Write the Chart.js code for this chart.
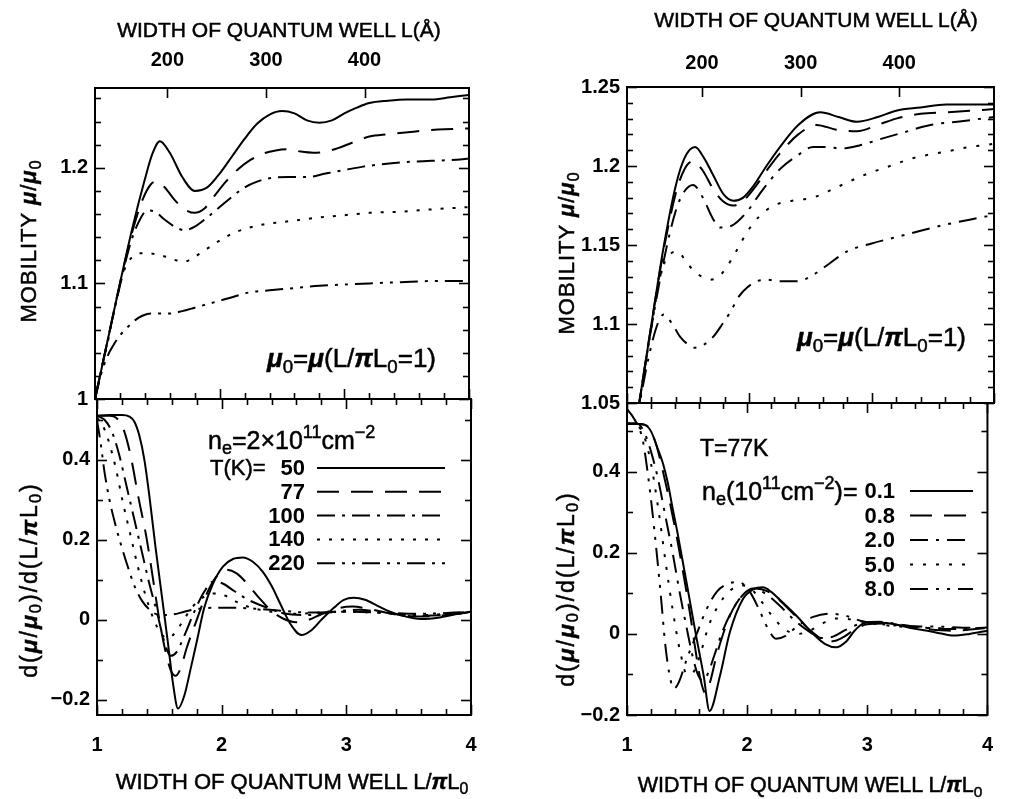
<!DOCTYPE html>
<html><head><meta charset="utf-8">
<script src="https://cdn.jsdelivr.net/npm/chart.js@4.4.1/dist/chart.umd.min.js"></script>
<style>
html,body{margin:0;padding:0;background:#fff;}
#wrap{position:relative;width:1011px;height:799px;overflow:hidden;background:#fff;}
canvas{position:absolute;left:0;top:0;}
.t{position:absolute;white-space:nowrap;color:#000;font-family:'Liberation Sans',Arial,sans-serif;font-size:21px;line-height:1;-webkit-text-stroke:0.5px #000;}
.c{transform:translate(-50%,-50%);}
.l{transform:translate(0,-50%);}
.r{transform:translate(-50%,-50%) rotate(-90deg);}
.t i{font-style:italic;font-weight:bold;}
.t sub{font-size:72%;vertical-align:-0.3em;line-height:0;}
.t sup{font-size:72%;vertical-align:0.6em;line-height:0;}
</style></head>
<body><div id="wrap">
<canvas id="ul" width="1011" height="799"></canvas>
<canvas id="ll" width="1011" height="799"></canvas>
<canvas id="ur" width="1011" height="799"></canvas>
<canvas id="lr" width="1011" height="799"></canvas>

<div class="t c" style="left:279px;top:29px">WIDTH OF QUANTUM WELL L(Å)</div>
<div class="t c" style="left:816px;top:19px">WIDTH OF QUANTUM WELL L(Å)</div>
<div class="t c" style="left:292px;top:782px;font-size:22px">WIDTH OF QUANTUM WELL L/<i>π</i>L<sub>0</sub></div>
<div class="t c" style="left:810px;top:786px;font-size:21.5px">WIDTH OF QUANTUM WELL L/<i>π</i>L<sub>0</sub></div>

<div class="t r" style="left:29px;top:241px;font-size:22px;letter-spacing:1px">MOBILITY <i>μ</i>/<i>μ</i><sub>0</sub></div>
<div class="t r" style="left:567px;top:253px;font-size:22px;letter-spacing:1px">MOBILITY <i>μ</i>/<i>μ</i><sub>0</sub></div>
<div class="t r" style="left:29px;top:580px;font-size:23px;letter-spacing:2px">d(<i>μ</i>/<i>μ</i><sub>0</sub>)/d(L/<i>π</i>L<sub>0</sub>)</div>
<div class="t r" style="left:566px;top:589px;font-size:23px;letter-spacing:2px">d(<i>μ</i>/<i>μ</i><sub>0</sub>)/d(L/<i>π</i>L<sub>0</sub>)</div>

<div class="t l" style="left:267px;top:358px;font-size:26px"><i>μ</i><sub>0</sub>=<i>μ</i>(L/<i>π</i>L<sub>0</sub>=1)</div>
<div class="t l" style="left:797px;top:337px;font-size:26px"><i>μ</i><sub>0</sub>=<i>μ</i>(L/<i>π</i>L<sub>0</sub>=1)</div>

<div class="t l" style="left:208px;top:440px;font-size:25px">n<sub>e</sub>=2×10<sup>11</sup>cm<sup>−2</sup></div>
<div class="t l" style="left:210px;top:468px;font-size:22px">T(K)=</div>
<div class="t l" style="left:700px;top:448px;font-size:23px">T=77K</div>
<div class="t l" style="left:702px;top:491px;font-size:25px">n<sub>e</sub>(10<sup>11</sup>cm<sup>−2</sup>)=</div>
</div>
<script>
// ---------------- DATA ----------------
// Upper-left: mobility mu/mu0 vs L/piL0, n_e = 2e11 cm^-2, various T(K)
const UL_T50  = [[1,1.0],[1.1,1.05],[1.2,1.1],[1.3,1.148],[1.4,1.19],[1.46,1.212],[1.52,1.223],[1.6,1.213],[1.7,1.192],[1.8,1.18],[1.9,1.183],[2.0,1.195],[2.1,1.21],[2.2,1.225],[2.3,1.238],[2.4,1.246],[2.5,1.249],[2.6,1.247],[2.7,1.241],[2.8,1.239],[2.9,1.241],[3.0,1.247],[3.1,1.252],[3.2,1.256],[3.35,1.258],[3.5,1.259],[3.7,1.259],[3.85,1.261],[4.0,1.263]];
const UL_T77  = [[1,1.0],[1.1,1.05],[1.2,1.1],[1.3,1.145],[1.38,1.172],[1.45,1.186],[1.5,1.188],[1.56,1.183],[1.64,1.172],[1.72,1.164],[1.8,1.161],[1.88,1.165],[1.96,1.176],[2.05,1.188],[2.15,1.199],[2.25,1.207],[2.34,1.212],[2.45,1.215],[2.55,1.216],[2.65,1.214],[2.75,1.213],[2.85,1.214],[2.95,1.217],[3.07,1.222],[3.2,1.227],[3.35,1.229],[3.53,1.231],[3.75,1.233],[4.0,1.234]];
const UL_T100 = [[1,1.0],[1.1,1.05],[1.2,1.098],[1.28,1.133],[1.35,1.153],[1.42,1.163],[1.48,1.162],[1.56,1.155],[1.64,1.149],[1.72,1.146],[1.8,1.149],[1.9,1.157],[2.0,1.166],[2.1,1.175],[2.2,1.183],[2.3,1.188],[2.4,1.191],[2.55,1.192],[2.7,1.192],[2.85,1.195],[3.0,1.198],[3.15,1.201],[3.3,1.203],[3.5,1.205],[3.7,1.206],[3.9,1.207],[4.0,1.208]];
const UL_T140 = [[1,1.0],[1.1,1.048],[1.18,1.09],[1.24,1.113],[1.3,1.123],[1.36,1.126],[1.43,1.126],[1.5,1.125],[1.57,1.123],[1.65,1.12],[1.72,1.119],[1.8,1.123],[1.9,1.13],[2.0,1.137],[2.1,1.143],[2.2,1.147],[2.35,1.151],[2.5,1.153],[2.65,1.155],[2.8,1.157],[3.0,1.159],[3.2,1.161],[3.45,1.162],[3.7,1.164],[4.0,1.166]];
const UL_T220 = [[1,1.0],[1.05,1.022],[1.1,1.037],[1.15,1.047],[1.2,1.055],[1.26,1.062],[1.32,1.068],[1.38,1.072],[1.45,1.074],[1.52,1.074],[1.6,1.074],[1.7,1.076],[1.8,1.079],[1.9,1.082],[2.0,1.085],[2.1,1.088],[2.23,1.092],[2.4,1.094],[2.6,1.096],[2.8,1.098],[3.0,1.099],[3.2,1.1],[3.45,1.101],[3.7,1.102],[4.0,1.102]];

// Lower-left: d(mu/mu0)/d(L/piL0)
const LL_T50  = [[1,0.51],[1.1,0.512],[1.2,0.512],[1.26,0.508],[1.3,0.495],[1.34,0.46],[1.38,0.4],[1.42,0.31],[1.47,0.18],[1.52,0.06],[1.57,-0.06],[1.61,-0.16],[1.65,-0.222],[1.7,-0.19],[1.755,-0.117],[1.8,-0.055],[1.86,0.03],[1.93,0.09],[2.01,0.133],[2.09,0.152],[2.17,0.156],[2.25,0.145],[2.33,0.12],[2.4,0.085],[2.47,0.04],[2.55,-0.01],[2.64,-0.038],[2.72,-0.026],[2.8,0.0],[2.9,0.03],[2.98,0.05],[3.06,0.055],[3.15,0.05],[3.25,0.035],[3.35,0.02],[3.45,0.01],[3.6,0.002],[3.75,0.006],[3.9,0.015],[4.0,0.02]];
const LL_T77  = [[1,0.51],[1.1,0.51],[1.17,0.5],[1.22,0.47],[1.27,0.41],[1.33,0.31],[1.4,0.2],[1.46,0.08],[1.5,0.0],[1.55,-0.08],[1.59,-0.125],[1.63,-0.14],[1.67,-0.122],[1.72,-0.07],[1.8,0.0],[1.87,0.058],[1.95,0.105],[2.04,0.125],[2.12,0.116],[2.2,0.092],[2.3,0.055],[2.4,0.022],[2.5,0.002],[2.6,-0.006],[2.7,0.0],[2.8,0.014],[2.95,0.03],[3.05,0.033],[3.2,0.026],[3.4,0.013],[3.6,0.008],[3.8,0.012],[4.0,0.02]];
const LL_T100 = [[1,0.51],[1.06,0.5],[1.12,0.47],[1.18,0.41],[1.24,0.33],[1.3,0.25],[1.36,0.17],[1.42,0.09],[1.48,0.02],[1.54,-0.055],[1.59,-0.09],[1.64,-0.08],[1.7,-0.04],[1.78,0.02],[1.86,0.07],[1.93,0.095],[2.0,0.092],[2.1,0.072],[2.2,0.052],[2.35,0.032],[2.5,0.016],[2.7,0.012],[2.9,0.02],[3.1,0.025],[3.3,0.018],[3.6,0.01],[3.8,0.012],[4.0,0.02]];
const LL_T140 = [[1,0.505],[1.04,0.49],[1.09,0.45],[1.15,0.38],[1.21,0.29],[1.27,0.21],[1.33,0.13],[1.39,0.06],[1.45,0.005],[1.51,-0.033],[1.56,-0.046],[1.61,-0.038],[1.68,-0.008],[1.76,0.03],[1.86,0.058],[1.95,0.066],[2.03,0.06],[2.12,0.045],[2.22,0.032],[2.4,0.02],[2.6,0.015],[2.8,0.018],[3.0,0.02],[3.3,0.017],[3.6,0.012],[4.0,0.02]];
const LL_T220 = [[1,0.5],[1.03,0.44],[1.06,0.37],[1.1,0.3],[1.15,0.235],[1.2,0.18],[1.25,0.13],[1.3,0.085],[1.36,0.048],[1.42,0.026],[1.5,0.012],[1.6,0.013],[1.7,0.02],[1.8,0.027],[1.95,0.03],[2.1,0.03],[2.3,0.027],[2.5,0.022],[2.7,0.018],[3.0,0.02],[3.3,0.018],[3.6,0.015],[4.0,0.02]];

// Upper-right: mobility, T = 77 K, various n_e (1e11 cm^-2)
const UR_N01 = [[1,1.0],[1.1,1.05],[1.2,1.1],[1.3,1.149],[1.4,1.188],[1.47,1.205],[1.556,1.212],[1.63,1.205],[1.706,1.194],[1.79,1.182],[1.87,1.178],[1.95,1.18],[2.03,1.187],[2.14,1.2],[2.25,1.212],[2.4,1.226],[2.58,1.234],[2.73,1.231],[2.88,1.228],[3.05,1.231],[3.2,1.235],[3.4,1.237],[3.61,1.239],[3.8,1.239],[4.0,1.239]];
const UR_N08 = [[1,1.0],[1.1,1.05],[1.2,1.1],[1.3,1.147],[1.4,1.183],[1.47,1.198],[1.54,1.203],[1.62,1.197],[1.7,1.186],[1.78,1.178],[1.87,1.175],[1.95,1.178],[2.05,1.187],[2.15,1.198],[2.25,1.208],[2.4,1.22],[2.55,1.226],[2.71,1.223],[2.88,1.222],[3.05,1.226],[3.2,1.23],[3.4,1.233],[3.61,1.234],[3.8,1.235],[4.0,1.236]];
const UR_N20 = [[1,1.0],[1.1,1.05],[1.2,1.098],[1.3,1.14],[1.4,1.172],[1.47,1.184],[1.54,1.188],[1.62,1.18],[1.7,1.167],[1.76,1.161],[1.85,1.162],[1.98,1.171],[2.1,1.184],[2.25,1.198],[2.4,1.207],[2.52,1.212],[2.65,1.212],[2.74,1.211],[2.9,1.213],[3.07,1.217],[3.25,1.221],[3.48,1.226],[3.7,1.228],[4.0,1.231]];
const UR_N50 = [[1,1.0],[1.1,1.05],[1.2,1.098],[1.28,1.133],[1.34,1.143],[1.41,1.146],[1.48,1.14],[1.54,1.134],[1.61,1.13],[1.68,1.128],[1.75,1.13],[1.815,1.136],[1.9,1.147],[1.98,1.158],[2.08,1.168],[2.2,1.175],[2.35,1.178],[2.52,1.18],[2.7,1.186],[2.93,1.194],[3.15,1.2],[3.34,1.205],[3.6,1.209],[3.8,1.212],[4.0,1.214]];
const UR_N80 = [[1,1.0],[1.1,1.048],[1.18,1.08],[1.25,1.1],[1.3,1.106],[1.37,1.1],[1.433,1.092],[1.5,1.087],[1.556,1.085],[1.63,1.087],[1.706,1.092],[1.78,1.1],[1.84,1.107],[1.92,1.118],[1.98,1.123],[2.06,1.127],[2.14,1.128],[2.26,1.127],[2.39,1.127],[2.52,1.131],[2.65,1.138],[2.8,1.146],[3.0,1.151],[3.2,1.155],[3.4,1.159],[3.61,1.163],[3.8,1.166],[4.0,1.169]];

// Lower-right: derivative, T = 77 K
const LR_N01 = [[1,0.518],[1.1,0.518],[1.15,0.516],[1.2,0.5],[1.256,0.457],[1.3,0.42],[1.338,0.375],[1.38,0.31],[1.42,0.25],[1.46,0.185],[1.5,0.12],[1.57,0.004],[1.638,-0.103],[1.687,-0.19],[1.774,-0.103],[1.856,0.004],[1.965,0.086],[2.05,0.11],[2.13,0.115],[2.2,0.104],[2.27,0.085],[2.41,0.045],[2.55,0.0],[2.65,-0.025],[2.74,-0.033],[2.82,-0.02],[2.9,0.01],[2.99,0.028],[3.1,0.028],[3.23,0.024],[3.35,0.015],[3.5,0.008],[3.6,0.002],[3.72,-0.004],[3.85,0.0],[4.0,0.008]];
const LR_N08 = [[1,0.518],[1.1,0.518],[1.18,0.51],[1.24,0.47],[1.3,0.4],[1.36,0.32],[1.42,0.23],[1.48,0.13],[1.53,0.04],[1.57,-0.04],[1.61,-0.11],[1.65,-0.145],[1.69,-0.12],[1.74,-0.06],[1.8,0.0],[1.88,0.06],[1.97,0.098],[2.07,0.112],[2.17,0.105],[2.28,0.08],[2.4,0.045],[2.52,0.01],[2.62,-0.012],[2.71,-0.018],[2.8,-0.008],[2.9,0.012],[3.0,0.024],[3.15,0.026],[3.3,0.02],[3.5,0.012],[3.7,0.008],[3.9,0.012],[4.0,0.015]];
const LR_N20 = [[1,0.52],[1.08,0.52],[1.14,0.5],[1.2,0.45],[1.26,0.38],[1.32,0.29],[1.38,0.2],[1.44,0.1],[1.5,0.01],[1.55,-0.06],[1.59,-0.1],[1.63,-0.115],[1.67,-0.1],[1.73,-0.05],[1.8,0.01],[1.88,0.06],[1.97,0.098],[2.05,0.112],[2.15,0.1],[2.27,0.07],[2.4,0.032],[2.52,0.005],[2.62,-0.01],[2.72,-0.006],[2.82,0.01],[2.95,0.026],[3.1,0.03],[3.3,0.022],[3.5,0.015],[3.7,0.012],[3.9,0.014],[4.0,0.016]];
const LR_N50 = [[1,0.52],[1.08,0.515],[1.14,0.49],[1.2,0.42],[1.26,0.31],[1.32,0.18],[1.38,0.06],[1.44,-0.04],[1.5,-0.1],[1.55,-0.095],[1.61,-0.05],[1.68,0.02],[1.76,0.07],[1.85,0.105],[1.95,0.12],[2.03,0.112],[2.12,0.08],[2.22,0.04],[2.32,0.01],[2.42,0.0],[2.52,0.008],[2.62,0.025],[2.74,0.038],[2.86,0.036],[3.0,0.028],[3.2,0.02],[3.5,0.015],[3.8,0.014],[4.0,0.015]];
const LR_N80 = [[1,0.555],[1.04,0.54],[1.08,0.52],[1.13,0.48],[1.18,0.38],[1.23,0.25],[1.28,0.1],[1.32,-0.03],[1.36,-0.11],[1.39,-0.135],[1.43,-0.12],[1.5,-0.06],[1.58,0.0],[1.66,0.06],[1.75,0.105],[1.85,0.125],[1.93,0.128],[2.02,0.105],[2.1,0.06],[2.17,0.015],[2.24,-0.012],[2.32,-0.005],[2.42,0.02],[2.55,0.042],[2.68,0.05],[2.82,0.045],[2.95,0.032],[3.1,0.025],[3.3,0.02],[3.6,0.018],[3.9,0.015],[4.0,0.015]];

// Series labels
const T_LABELS = ['50','77','100','140','220'];
const N_LABELS = ['0.1','0.8','2.0','5.0','8.0'];

// Tick labels
const X_LABELS = [1,2,3,4];
const ANG_TICKS = [200,300,400];
const UL_Y_LABELS = [1,1.1,1.2];
const UR_Y_LABELS = [1.05,1.1,1.15,1.2,1.25];
const LOW_Y_LABELS = [-0.2,0,0.2,0.4];

// Conversion L(Å) = (L/piL0) * piL0
const PI_L0_LEFT = 126.5;
const PI_L0_RIGHT = 124;

// ---------------- RENDERING ----------------
const W = 1011, H = 799;
const FONT = "'Liberation Sans', Arial, sans-serif";
const YBOX = 80, XBOX = 50, ABOX = 70;
const DASH_T = [[], [22,12], [18,7,3,7], [3,9], [18,7,3,7,3,7]];
const DASH_N = [[], [22,12], [18,8,3,8], [3,10], [18,8,3,8,3,8]];

function range(a, b, step) {
  const out = []; const n = Math.round((b - a) / step);
  for (let i = 0; i <= n; i++) out.push(Math.round((a + i * step) * 1e6) / 1e6);
  return out;
}
function labelFor(list) {
  return v => {
    const hit = list.find(l => Math.abs(l - v) < 1e-6);
    return hit === undefined ? '' : String(hit).replace('-', '\u2212');
  };
}

const frameTicks = {
  id: 'frameTicks',
  afterDatasetsDraw(chart, args, o) {
    const {ctx, chartArea: a} = chart;
    ctx.save();
    ctx.strokeStyle = '#000';
    ctx.lineWidth = 1.6;
    for (const side of ['left','right','top','bottom']) {
      const id = o[side]; if (!id) continue;
      const sc = chart.scales[id];
      for (const t of sc.ticks) {
        const p = Math.round(sc.getPixelForValue(t.value)) + 0.5;
        const len = t.label ? o.major : o.minor;
        ctx.beginPath();
        if (side === 'left') { ctx.moveTo(a.left, p); ctx.lineTo(a.left + len, p); }
        if (side === 'right') { ctx.moveTo(a.right, p); ctx.lineTo(a.right - len, p); }
        if (side === 'top') { ctx.moveTo(p, a.top); ctx.lineTo(p, a.top + len); }
        if (side === 'bottom') { ctx.moveTo(p, a.bottom); ctx.lineTo(p, a.bottom - len); }
        ctx.stroke();
      }
    }
    ctx.lineWidth = 2;
    ctx.strokeRect(a.left, a.top, a.right - a.left, a.bottom - a.top);
    ctx.restore();
  }
};

const inLegend = {
  id: 'inLegend',
  afterDatasetsDraw(chart, args, o) {
    if (!o || !o.show) return;
    const ctx = chart.ctx;
    ctx.save();
    ctx.fillStyle = '#000'; ctx.strokeStyle = '#000';
    ctx.font = 'bold ' + o.size + 'px ' + FONT;
    ctx.textAlign = 'right'; ctx.textBaseline = 'middle';
    chart.data.datasets.forEach((ds, i) => {
      const y = o.y0 + i * o.dy;
      ctx.fillText(ds.label, o.textRight, y + 1);
      ctx.lineWidth = 2;
      ctx.setLineDash(ds.borderDash);
      ctx.beginPath(); ctx.moveTo(o.x1, y); ctx.lineTo(o.x2, y); ctx.stroke();
    });
    ctx.restore();
  }
};

function makeChart(id, p) {
  const datasets = p.series.map((s, i) => ({
    label: p.labels[i],
    data: s.map(q => ({x: q[0], y: q[1]})),
    borderColor: '#000', borderWidth: 2, borderDash: p.dashes[i],
    pointRadius: 0, fill: false, tension: 0.4, cubicInterpolationMode: 'monotone'
  }));
  const tickFont = {family: FONT, size: 20, weight: 'bold'};
  const scales = {
    x: {
      type: 'linear', position: 'bottom', min: 1, max: 4,
      afterBuildTicks: s => { s.ticks = range(1, 4, 0.2).map(v => ({value: v})); },
      afterFit: s => { s.height = p.xLabels ? XBOX : 0; },
      grid: {display: false, drawTicks: false}, border: {display: false},
      ticks: {display: p.xLabels, autoSkip: false, maxRotation: 0, padding: 18, color: '#000', font: tickFont, callback: labelFor(X_LABELS)}
    },
    y: {
      type: 'linear', position: 'left', min: p.yMin, max: p.yMax,
      afterBuildTicks: s => { s.ticks = range(p.yTickMin, p.yTickMax, p.yStep).map(v => ({value: v})); },
      afterFit: s => { s.width = YBOX; },
      grid: {display: false, drawTicks: false}, border: {display: false},
      ticks: {autoSkip: false, padding: 7, color: '#000', font: tickFont, callback: labelFor(p.yLabels)}
    }
  };
  const sides = {left: 'y', right: 'y', bottom: 'x', top: 'x', major: 10, minor: 6};
  let topBox = 0;
  if (p.ang) {
    scales.xa = {
      type: 'linear', position: 'top', min: 1 * p.ang, max: 4 * p.ang,
      afterBuildTicks: s => { s.ticks = ANG_TICKS.map(v => ({value: v})); },
      afterFit: s => { s.height = ABOX; },
      grid: {display: false, drawTicks: false}, border: {display: false},
      ticks: {autoSkip: false, maxRotation: 0, padding: p.angPad, color: '#000', font: tickFont, callback: v => String(v)}
    };
    sides.top = 'xa';
    topBox = ABOX;
  }
  return new Chart(document.getElementById(id), {
    type: 'line',
    data: {datasets},
    options: {
      responsive: false, animation: false, devicePixelRatio: 1,
      layout: {padding: {
        left: p.area[0] - YBOX, top: p.area[1] - topBox,
        right: W - p.area[2], bottom: H - p.area[3] - (p.xLabels ? XBOX : 0)
      }},
      plugins: {legend: {display: false}, tooltip: {enabled: false}, frameTicks: sides, inLegend: p.legend || {show: false}},
      scales
    },
    plugins: [frameTicks, inLegend]
  });
}

makeChart('ul', {
  series: [UL_T50, UL_T77, UL_T100, UL_T140, UL_T220], labels: T_LABELS,
  dashes: DASH_T, area: [95, 88, 469, 399], yMin: 1, yMax: 1.269,
  yTickMin: 1, yTickMax: 1.26, yStep: 0.02, yLabels: UL_Y_LABELS,
  xLabels: false, ang: PI_L0_LEFT, angPad: 16
});
makeChart('ll', {
  series: [LL_T50, LL_T77, LL_T100, LL_T140, LL_T220], labels: T_LABELS,
  dashes: DASH_T, area: [97, 399, 471, 715], yMin: -0.238, yMax: 0.552,
  yTickMin: -0.2, yTickMax: 0.5, yStep: 0.1, yLabels: LOW_Y_LABELS,
  xLabels: true,
  legend: {show: true, size: 22, textRight: 305, x1: 317, x2: 445, y0: 468, dy: 23.8}
});
makeChart('ur', {
  series: [UR_N01, UR_N08, UR_N20, UR_N50, UR_N80], labels: N_LABELS,
  dashes: DASH_N, area: [627, 87, 994, 403], yMin: 1.05, yMax: 1.25,
  yTickMin: 1.05, yTickMax: 1.25, yStep: 0.01, yLabels: UR_Y_LABELS,
  xLabels: false, ang: PI_L0_RIGHT, angPad: 12
});
makeChart('lr', {
  series: [LR_N01, LR_N08, LR_N20, LR_N50, LR_N80], labels: N_LABELS,
  dashes: DASH_N, area: [627, 403, 994, 715], yMin: -0.2, yMax: 0.57,
  yTickMin: -0.2, yTickMax: 0.5, yStep: 0.1, yLabels: LOW_Y_LABELS,
  xLabels: true,
  legend: {show: true, size: 22, textRight: 895, x1: 910, x2: 973, y0: 491, dy: 24.5}
});
</script>
</body></html>
